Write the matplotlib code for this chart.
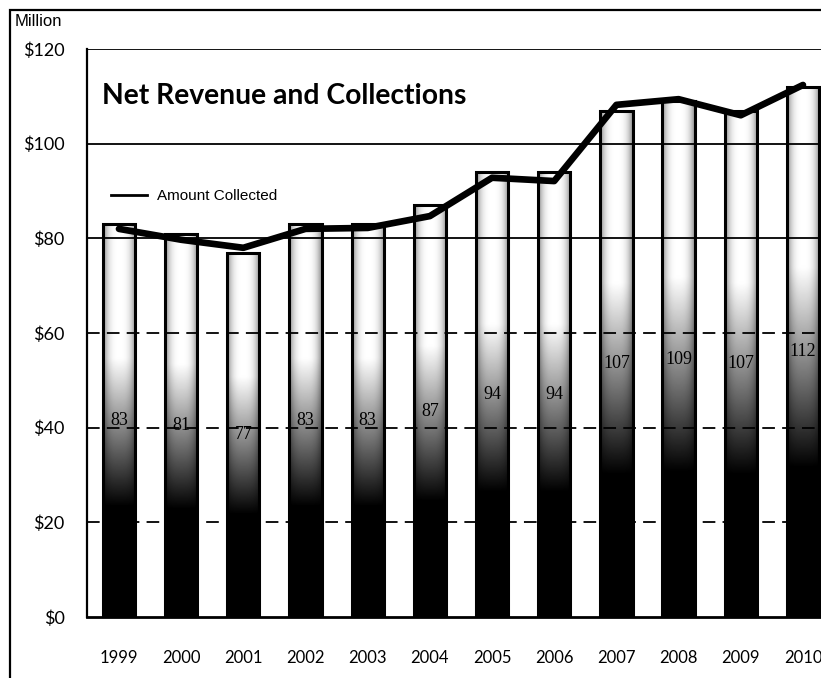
import numpy as np
import matplotlib
matplotlib.use("Agg")
import matplotlib.pyplot as plt
from matplotlib.lines import Line2D
from matplotlib.patches import Rectangle

years = ["1999", "2000", "2001", "2002", "2003", "2004",
         "2005", "2006", "2007", "2008", "2009", "2010"]
net_revenue = [83, 81, 77, 83, 83, 87, 94, 94, 107, 109, 107, 112]
collected = [82, 79.7, 78, 82, 82.2, 84.7, 92.8, 92.1, 108.2, 109.4, 106, 112.4]
yticks = [0, 20, 40, 60, 80, 100, 120]
ytick_labels = ["$0", "$20", "$40", "$60", "$80", "$100", "$120"]

W, H = 821, 678
fig = plt.figure(figsize=(W / 100, H / 100), dpi=100)
ax = fig.add_axes([87 / W, 1 - 617 / H, 1 - 87 / W, (617 - 49) / H])

x = np.arange(len(years))
bar_w = 0.52

# vertical black-to-white shading, relative to each bar's height
f = np.linspace(0, 1, 200)[:, None]
u = np.linspace(0, 1, 40)[None, :]
shade = np.clip((f - 0.28) / 0.38, 0, 1) * (1 - 0.45 * np.abs(2 * u - 1) ** 3)

bars = ax.bar(x, net_revenue, width=bar_w, color="none", edgecolor="black",
              linewidth=2.2, zorder=3)
for b, v in zip(bars, net_revenue):
    x0 = b.get_x()
    ax.imshow(shade, cmap="gray", vmin=0, vmax=1, origin="lower",
              extent=(x0, x0 + bar_w, 0, v), aspect="auto", zorder=2,
              interpolation="bilinear")
    ax.text(b.get_x() + bar_w / 2, v / 2, str(v), ha="center", va="center",
            fontsize=13, family="Liberation Serif", color="black", zorder=5)

# grid: solid in the upper part, dashed lower down
for yv in [80, 100, 120]:
    ax.axhline(yv, color="black", lw=1.3, zorder=4)
for yv in [20, 40, 60]:
    ax.axhline(yv, color="black", lw=1.3, ls=(0, (7, 4)), zorder=4)

ax.plot(x, collected, color="black", lw=4.8, solid_capstyle="round",
        solid_joinstyle="round", zorder=6)

ax.set_xlim(-0.514, 11.29)
ax.set_ylim(0, 120)
ax.set_yticks(yticks)
ax.set_yticklabels(ytick_labels, family="Lato", fontsize=13)
ax.set_xticks(x)
ax.set_xticklabels(years, family="Lato", fontsize=12)
ax.tick_params(axis="both", length=0)
ax.tick_params(axis="y", pad=16)
ax.tick_params(axis="x", pad=24)
for s in ["top", "right"]:
    ax.spines[s].set_visible(False)
ax.spines["left"].set_linewidth(1.6)
ax.spines["bottom"].set_linewidth(2)

ax.text(0.021, 0.918, "Net Revenue and Collections", transform=ax.transAxes,
        family="Lato", fontweight="bold", fontsize=20.3, va="center", ha="left")

handle = Line2D([], [], color="black", lw=2)
ax.legend([handle], ["Amount Collected"], loc="center left",
          bbox_to_anchor=(0.024, 0.741), frameon=False, handlelength=2.4,
          handletextpad=0.6, borderaxespad=0,
          prop={"family": "Liberation Sans", "size": 11})

fig.text(15 / W, 1 - 22 / H, "Million", family="Liberation Sans", fontsize=12,
         va="center", ha="left")

# outer frame around the chart
fig.patches.append(Rectangle((10 / W, -0.1), 1.2, 1 - 10 / H + 0.1,
                             transform=fig.transFigure, fill=False,
                             edgecolor="black", lw=1.6))

fig.savefig("out.png", dpi=100)
